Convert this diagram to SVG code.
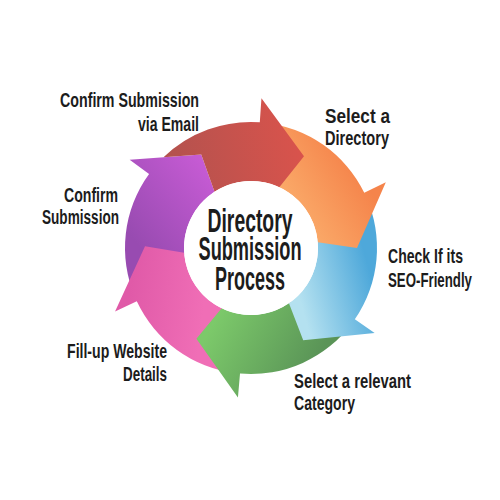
<svg xmlns="http://www.w3.org/2000/svg" width="500" height="500" viewBox="0 0 500 500">
<defs>
<linearGradient id="gRed" gradientUnits="userSpaceOnUse" x1="160" y1="170" x2="300" y2="140"><stop offset="0" stop-color="#b0524e"/><stop offset="1" stop-color="#d9534c"/></linearGradient>
<linearGradient id="gOrange" gradientUnits="userSpaceOnUse" x1="370" y1="190" x2="300" y2="235"><stop offset="0" stop-color="#f5844b"/><stop offset="1" stop-color="#fbae6c"/></linearGradient>
<linearGradient id="gBlue" gradientUnits="userSpaceOnUse" x1="372" y1="280" x2="300" y2="300"><stop offset="0" stop-color="#4ea8da"/><stop offset="1" stop-color="#b4e1f0"/></linearGradient>
<linearGradient id="gGreen" gradientUnits="userSpaceOnUse" x1="215" y1="320" x2="310" y2="372"><stop offset="0" stop-color="#7cc96a"/><stop offset="1" stop-color="#5a9457"/></linearGradient>
<linearGradient id="gPink" gradientUnits="userSpaceOnUse" x1="130" y1="290" x2="205" y2="300"><stop offset="0" stop-color="#e05aa8"/><stop offset="1" stop-color="#f06eb6"/></linearGradient>
<linearGradient id="gPurple" gradientUnits="userSpaceOnUse" x1="130" y1="235" x2="210" y2="170"><stop offset="0" stop-color="#984bb1"/><stop offset="1" stop-color="#c65bd4"/></linearGradient>
</defs>
<style>
.lbl{font-family:"Liberation Sans",Arial,sans-serif;font-weight:bold;font-size:21px;fill:#1c1c1c}
.ctr{font-family:"Liberation Sans",Arial,sans-serif;font-weight:bold;font-size:33px;fill:#1c1c1c;text-anchor:middle}
.end{text-anchor:end}
</style>
<rect width="500" height="500" fill="#ffffff"/>
<g id="connectors"></g>
<g id="step6-confirm-submission">
<path fill="url(#gPurple)" d="M135.02,297.23 A126,126 0 0 1 149.06,173.94 L129.65,159.83 L201.24,154.41 L214.51,191.81 A67,67 0 0 0 184.37,255.00 Z"/>
<text class="lbl end" transform="translate(118,202) scale(0.6708,1)" textLength="80.5" lengthAdjust="spacingAndGlyphs">Confirm</text>
<text class="lbl end" transform="translate(119,224) scale(0.6471,1)" textLength="119" lengthAdjust="spacingAndGlyphs">Submission</text>
</g>
<g id="step5-fill-up-details">
<path fill="url(#gPink)" d="M235.64,373.06 A126,126 0 0 1 136.81,301.25 L115.05,311.39 L145.02,246.15 L184.16,252.67 A67,67 0 0 0 223.75,309.21 Z"/>
<text class="lbl end" transform="translate(167,358) scale(0.6693,1)" textLength="149.4" lengthAdjust="spacingAndGlyphs">Fill-up Website</text>
<text class="lbl end" transform="translate(167,381) scale(0.6386,1)" textLength="68.9" lengthAdjust="spacingAndGlyphs">Details</text>
</g>
<g id="step4-select-category">
<path fill="url(#gGreen)" d="M352.29,322.95 A126,126 0 0 1 240.02,373.52 L237.93,397.43 L196.41,338.86 L221.63,308.22 A67,67 0 0 0 290.85,301.86 Z"/>
<text class="lbl" transform="translate(294,388) scale(0.7057,1)" textLength="165.8" lengthAdjust="spacingAndGlyphs">Select a relevant</text>
<text class="lbl" transform="translate(294,410) scale(0.6703,1)" textLength="91" lengthAdjust="spacingAndGlyphs">Category</text>
</g>
<g id="step3-check-seo">
<path fill="url(#gBlue)" d="M366.11,196.75 A126,126 0 0 1 354.84,319.37 L374.62,332.96 L303.20,340.26 L288.95,303.22 A67,67 0 0 0 317.50,239.83 Z"/>
<text class="lbl" transform="translate(388,263) scale(0.6696,1)" textLength="112" lengthAdjust="spacingAndGlyphs">Check If its</text>
<text class="lbl" transform="translate(388,287) scale(0.6316,1)" textLength="133" lengthAdjust="spacingAndGlyphs">SEO-Friendly</text>
</g>
<g id="step2-select-directory">
<path fill="url(#gOrange)" d="M264.17,122.69 A126,126 0 0 1 364.25,192.77 L385.82,182.24 L357,248 L317.75,242.16 A67,67 0 0 0 277.18,186.33 Z"/>
<text class="lbl" transform="translate(325,123) scale(0.8186,1)" textLength="79.4" lengthAdjust="spacingAndGlyphs">Select a</text>
<text class="lbl" transform="translate(325,145) scale(0.6941,1)" textLength="92.2" lengthAdjust="spacingAndGlyphs">Directory</text>
</g>
<g id="step1-confirm-email">
<path fill="url(#gRed)" d="M163.47,157.36 A126,126 0 0 1 259.79,122.31 L261.46,98.37 L304,156.20 L279.32,187.28 A67,67 0 0 0 214.51,191.81 L201.24,154.41 Z"/>
<text class="lbl end" transform="translate(199,107) scale(0.6767,1)" textLength="205.4" lengthAdjust="spacingAndGlyphs">Confirm Submission</text>
<text class="lbl end" transform="translate(199,131) scale(0.6696,1)" textLength="91.1" lengthAdjust="spacingAndGlyphs">via Email</text>
</g>
<g id="center">
<circle cx="251" cy="248" r="67" fill="#ffffff"/>
<text class="ctr" transform="translate(250,232) scale(0.5866,1)" textLength="144.9" lengthAdjust="spacingAndGlyphs">Directory</text>
<text class="ctr" transform="translate(250,260) scale(0.5508,1)" textLength="187" lengthAdjust="spacingAndGlyphs">Submission</text>
<text class="ctr" transform="translate(250,290) scale(0.5452,1)" textLength="128.4" lengthAdjust="spacingAndGlyphs">Process</text>
</g>
</svg>
